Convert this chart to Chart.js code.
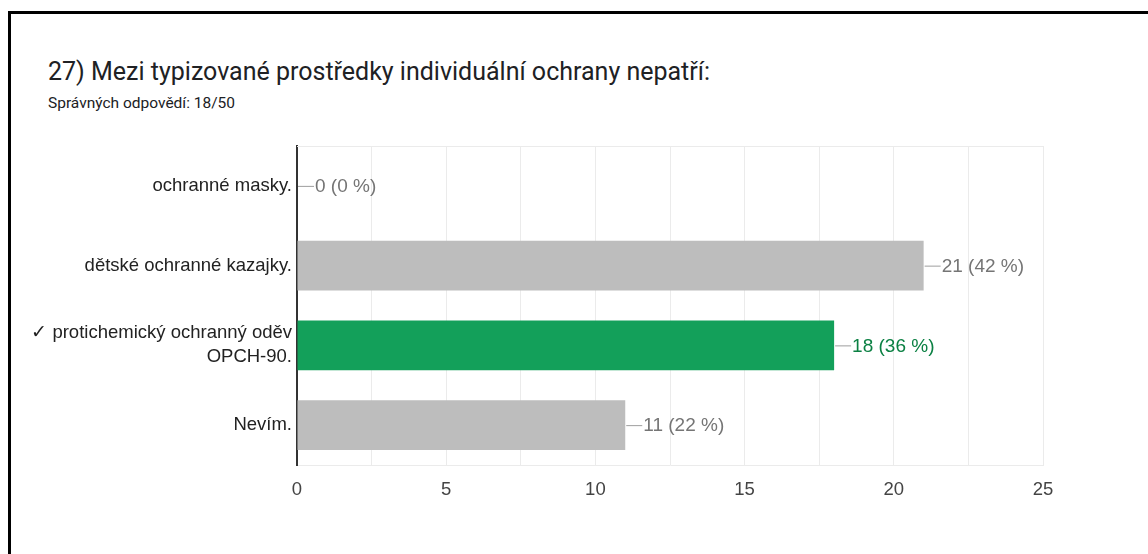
<!DOCTYPE html>
<html>
<head>
<meta charset="utf-8">
<script src="https://cdn.jsdelivr.net/npm/chart.js@4"></script>
<style>
  html, body { margin: 0; padding: 0; background: #fff; overflow: hidden; }
  .frame {
    position: absolute; left: 8px; top: 11px; width: 1200px; height: 600px;
    border-top: 3px solid #000; border-left: 3px solid #000;
  }
  .title {
    position: absolute; left: 48px; top: 57px;
    font-family: Roboto, sans-serif; font-size: 25px; color: #202124;
  }
  .subtitle {
    position: absolute; left: 48px; top: 94px;
    font-family: Roboto, sans-serif; font-size: 15.5px; color: #202124;
  }
  #chart { position: absolute; left: 0; top: 0; }
</style>
</head>
<body>
<div class="frame"></div>
<div class="title">27) Mezi typizované prostředky individuální ochrany nepatří:</div>
<div class="subtitle">Správných odpovědí: 18/50</div>
<canvas id="chart" width="1148" height="554"></canvas>
<script>
const categories = [
  "ochranné masky.",
  "dětské ochranné kazajky.",
  ["✓ protichemický ochranný oděv", "OPCH-90."],
  "Nevím.",
];
const counts = [0, 21, 18, 11];
const percents = [0, 42, 36, 22];
const correctIndex = 2;

const barColors = counts.map((v, i) => (i === correctIndex ? "#13a05a" : "#bdbdbd"));
const labelFont = "'Liberation Sans', Arial, sans-serif";

// labels like "21 (42 %)" with a short leader line
const valueLabels = {
  id: "valueLabels",
  afterDatasetsDraw(chart) {
    const ctx = chart.ctx;
    const meta = chart.getDatasetMeta(0);
    ctx.save();
    ctx.font = "19px " + labelFont;
    ctx.textBaseline = "middle";
    meta.data.forEach((bar, i) => {
      const x = bar.x + 1;
      const y = bar.y;
      ctx.strokeStyle = "#9e9e9e";
      ctx.lineWidth = 1;
      ctx.beginPath();
      ctx.moveTo(x, y + 0.5);
      ctx.lineTo(x + 16, y + 0.5);
      ctx.stroke();
      ctx.fillStyle = i === correctIndex ? "#0b8043" : "#757575";
      ctx.fillText(counts[i] + " (" + percents[i] + " %)", x + 17, y + 1);
    });
    // top border of the plot
    const a = chart.chartArea;
    ctx.strokeStyle = "#ebebeb";
    ctx.beginPath();
    ctx.moveTo(a.left, a.top + 0.5);
    ctx.lineTo(a.right, a.top + 0.5);
    ctx.stroke();
    ctx.restore();
  },
};

new Chart(document.getElementById("chart"), {
  type: "bar",
  data: {
    labels: categories,
    datasets: [
      {
        data: counts,
        backgroundColor: barColors,
        borderWidth: 0,
        barPercentage: 0.78,
        categoryPercentage: 0.8,
      },
    ],
  },
  options: {
    indexAxis: "y",
    responsive: false,
    animation: false,
    layout: { padding: { top: 146, right: 105, left: 0, bottom: 0 } },
    plugins: { legend: { display: false }, tooltip: { enabled: false } },
    scales: {
      x: {
        min: 0,
        max: 25,
        afterFit: (scale) => { scale.height = 89; },
        ticks: {
          stepSize: 2.5,
          padding: 14,
          color: "#444",
          font: { family: labelFont, size: 18.5 },
          callback: (v) => (v % 5 === 0 ? v : ""),
        },
        grid: { color: "#ebebeb", drawTicks: false },
        border: { color: "#ebebeb" },
      },
      y: {
        afterFit: (scale) => { scale.width = 297; },
        ticks: {
          padding: 5,
          color: "#222",
          font: { family: labelFont, size: 18.5, lineHeight: 1.3 },
        },
        grid: { display: false, drawTicks: false },
        border: { color: "#333", width: 2 },
      },
    },
  },
  plugins: [valueLabels],
});
</script>
</body>
</html>
